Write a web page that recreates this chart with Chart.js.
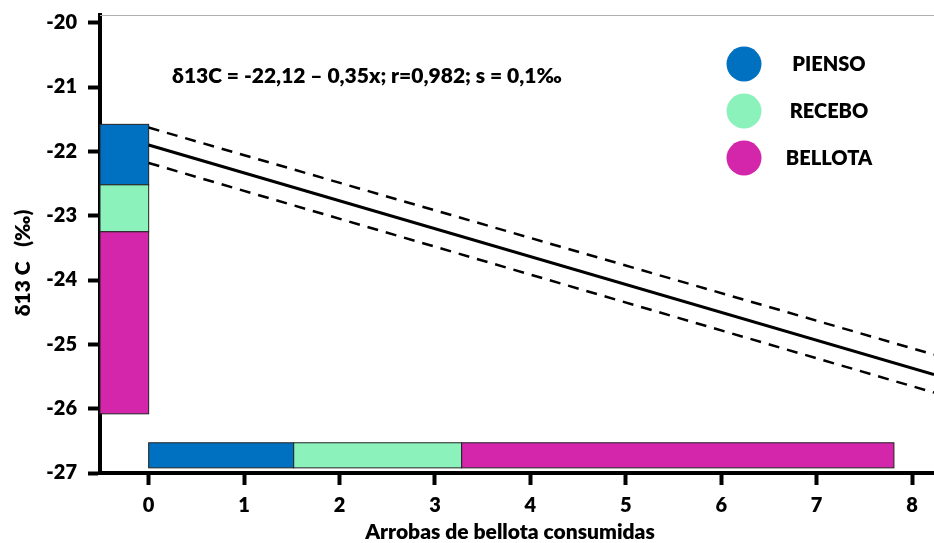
<!DOCTYPE html>
<html>
<head>
<meta charset="utf-8">
<script src="https://cdn.jsdelivr.net/npm/chart.js@4.4.1/dist/chart.umd.min.js"></script>
<style>
  html, body { margin: 0; padding: 0; background: #fff; }
  #wrap { width: 934px; height: 543px; }
</style>
</head>
<body>
<div id="wrap"><canvas id="chart" width="934" height="543"></canvas></div>
<script>
// categories and colours
const categories = ['PIENSO', 'RECEBO', 'BELLOTA'];
const catColors = ['#0070C0', '#8CF2BC', '#D426AA'];

// vertical bar at the left: x range and stacked y boundaries
const leftBarX = [-0.51, 0];
const leftBarY = [-21.58, -22.52, -23.25, -26.08];

// horizontal bar at the bottom: y range and x boundaries
const bottomBarY = [-26.53, -26.92];
const bottomBarX = [0, 1.52, 3.28, 7.81];

// regression line and its confidence band
const lineX = [0, 8.23];
const regY = [-21.9, -25.47];
const upperY = [-21.63, -25.16];
const lowerY = [-22.18, -25.75];

const xTicks = [0, 1, 2, 3, 4, 5, 6, 7, 8];
const yTicks = [-27, -26, -25, -24, -23, -22, -21, -20];

const equation = 'δ13C = -22,12 – 0,35x; r=0,982; s = 0,1‰';
const xTitle = 'Arrobas de bellota consumidas';
const yTitle = 'δ13 C   (‰)';

const FONT = 'Lato, "Open Sans", sans-serif';

function pts(xs, ys) {
    return xs.map((x, i) => ({ x: x, y: ys[i] }));
}

const decorPlugin = {
    id: 'decor',
    beforeDatasetsDraw(chart) {
        const ctx = chart.ctx;
        const xs = chart.scales.x, ys = chart.scales.y;
        ctx.save();
        ctx.lineWidth = 1;
        ctx.strokeStyle = '#222';
        // left stacked bar
        for (let i = 0; i < categories.length; i++) {
            const x0 = xs.getPixelForValue(leftBarX[0]);
            const x1 = xs.getPixelForValue(leftBarX[1]);
            const y0 = ys.getPixelForValue(leftBarY[i]);
            const y1 = ys.getPixelForValue(leftBarY[i + 1]);
            ctx.fillStyle = catColors[i];
            ctx.fillRect(x0, y0, x1 - x0, y1 - y0);
            ctx.strokeRect(x0, y0, x1 - x0, y1 - y0);
        }
        // bottom bar
        for (let i = 0; i < categories.length; i++) {
            const x0 = xs.getPixelForValue(bottomBarX[i]);
            const x1 = xs.getPixelForValue(bottomBarX[i + 1]);
            const y0 = ys.getPixelForValue(bottomBarY[0]);
            const y1 = ys.getPixelForValue(bottomBarY[1]);
            ctx.fillStyle = catColors[i];
            ctx.fillRect(x0, y0, x1 - x0, y1 - y0);
            ctx.strokeRect(x0, y0, x1 - x0, y1 - y0);
        }
        ctx.restore();
    },
    afterDraw(chart) {
        const ctx = chart.ctx;
        const area = chart.chartArea;
        ctx.save();
        // thin top frame line
        ctx.strokeStyle = '#b0b0b0';
        ctx.lineWidth = 1;
        ctx.beginPath();
        ctx.moveTo(area.left, area.top + 0.5);
        ctx.lineTo(area.right, area.top + 0.5);
        ctx.stroke();

        ctx.fillStyle = '#000';
        ctx.textBaseline = 'middle';

        // equation
        ctx.font = '800 21px ' + FONT;
        ctx.textAlign = 'left';
        ctx.fillText(equation, 172, 76);

        // legend
        ctx.font = '800 20px ' + FONT;
        const legendY = [64, 111, 158];
        categories.forEach((c, i) => {
            ctx.fillStyle = catColors[i];
            ctx.beginPath();
            ctx.arc(744, legendY[i], 17.5, 0, Math.PI * 2);
            ctx.fill();
            ctx.fillStyle = '#000';
            ctx.textAlign = 'center';
            ctx.fillText(c, 829, legendY[i] + 1);
        });

        // axis titles
        ctx.font = '800 21px ' + FONT;
        ctx.textAlign = 'center';
        ctx.fillText(xTitle, 510, 532);
        ctx.translate(23, 263);
        ctx.rotate(-Math.PI / 2);
        ctx.fillText(yTitle, 0, 0);
        ctx.restore();
    }
};

new Chart(document.getElementById('chart'), {
    type: 'scatter',
    data: {
        datasets: [
            {
                data: pts(lineX, regY),
                showLine: true,
                borderColor: '#000',
                borderWidth: 3,
                pointRadius: 0
            },
            {
                data: pts(lineX, upperY),
                showLine: true,
                borderColor: '#000',
                borderWidth: 2.5,
                borderDash: [11, 8],
                pointRadius: 0
            },
            {
                data: pts(lineX, lowerY),
                showLine: true,
                borderColor: '#000',
                borderWidth: 2.5,
                borderDash: [11, 8],
                pointRadius: 0
            }
        ]
    },
    options: {
        responsive: false,
        animation: false,
        layout: { padding: { top: 15, right: 0, left: 0, bottom: 0 } },
        plugins: {
            legend: { display: false },
            tooltip: { enabled: false }
        },
        scales: {
            x: {
                type: 'linear',
                min: -0.51,
                max: 8.23,
                afterFit(scale) {
                    scale.height = 70;
                    scale.paddingLeft = 0;
                    scale.paddingRight = 0;
                },
                afterBuildTicks(scale) { scale.ticks = xTicks.map(v => ({ value: v })); },
                grid: {
                    drawOnChartArea: false,
                    drawTicks: true,
                    tickLength: 12,
                    tickWidth: 4,
                    tickColor: '#000'
                },
                border: { display: true, color: '#000', width: 4 },
                ticks: {
                    color: '#000',
                    padding: 9,
                    maxRotation: 0,
                    font: { family: FONT, size: 20, weight: '800' }
                }
            },
            y: {
                type: 'linear',
                min: -27,
                max: -19.88,
                afterFit(scale) {
                    scale.width = 100;
                    scale.paddingTop = 0;
                    scale.paddingBottom = 0;
                },
                afterBuildTicks(scale) { scale.ticks = yTicks.map(v => ({ value: v })); },
                grid: {
                    drawOnChartArea: false,
                    drawTicks: true,
                    tickLength: 12,
                    tickWidth: 4,
                    tickColor: '#000'
                },
                border: { display: true, color: '#000', width: 4 },
                ticks: {
                    color: '#000',
                    padding: 11,
                    font: { family: FONT, size: 20, weight: '800' }
                }
            }
        }
    },
    plugins: [decorPlugin]
});
</script>
</body>
</html>
